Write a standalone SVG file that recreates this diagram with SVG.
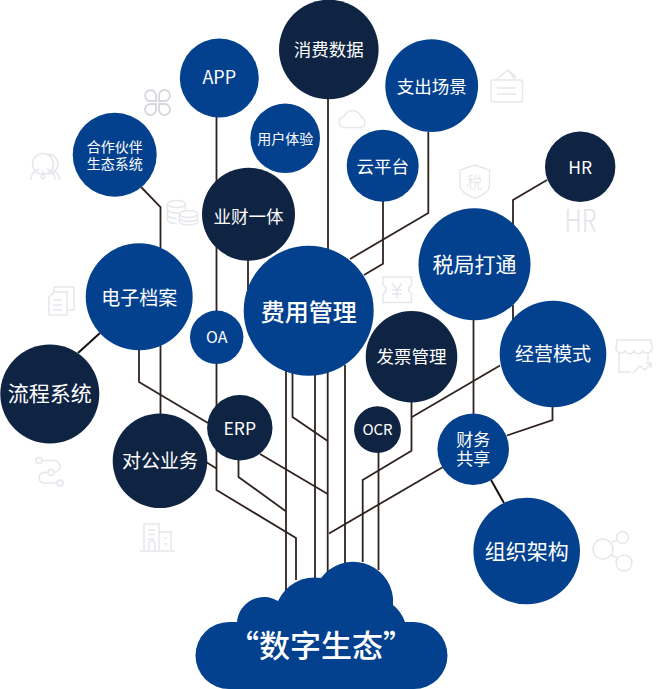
<svg xmlns="http://www.w3.org/2000/svg" width="660" height="689" viewBox="0 0 660 689">
<style>
.b{fill:#03418f}.n{fill:#0f2343}
text{font-family:"Noto Sans CJK SC","Noto Sans",sans-serif;fill:#fff;text-anchor:middle}
#connectors path{fill:none;stroke:#2f2320;stroke-width:1.8;stroke-linejoin:miter}
#icons *{fill:none;stroke:#e6e7ec;stroke-width:1.5}
#icons text{fill:#e2e3e9;stroke:none}
</style>
<rect width="660" height="689" fill="#fff"/>
<g id="icons">
<g id="icon-clover"><path d="M156 101H151a5.500 5.500 0 1 1 5-5.500zM159 101V95.500a5.500 5.500 0 1 1 5.500 5.500zM156 104V109.500a5.500 5.500 0 1 1-5.500-5.500zM159 104H164.500a5.500 5.500 0 1 1-5.500 5.500z" style="stroke:#d5d7de;stroke-width:1.8"/></g>
<g id="icon-person"><circle cx="43" cy="164" r="10.500"/><path d="M48 154a10 10 0 0 1 0 20M31 180c0-6 3-9 8-11M47 169c5 2 8 5 8 11M53 170c4 2 6 5 7 10M43 172l-2 5 2 2 2-2z"/></g>
<g id="icon-coins"><ellipse cx="176.500" cy="204" rx="9" ry="3.500"/><path d="M167.500 204V220c0 2 4 3.500 9 3.500M185.500 204V211M167.500 209.500c0 2 4 3.500 9 3.500h3M167.500 215c0 2 4 3.500 9 3.500"/><ellipse cx="188.500" cy="214" rx="9" ry="3.500"/><path d="M179.500 214V221.500c0 2 4 3.500 9 3.500s9-1.500 9-3.500V214M179.500 218c0 2 4 3.500 9 3.500s9-1.500 9-3.500"/></g>
<g id="icon-doc"><path d="M54 292H67V315H49V297zM54 292V287H74V310H67M53 300H62M53 305H62M53 310H62"/></g>
<g id="icon-flow"><circle cx="39" cy="460.500" r="3"/><circle cx="51" cy="472.500" r="3"/><circle cx="60" cy="483" r="3"/><path d="M42 460.500H54a6 6 0 0 1 0 12H54M48 472.500H43a5.500 5.500 0 0 0 0 10.500H57"/></g>
<g id="icon-building"><path d="M140 551H175M144 551V524H159V551M159 532H171V551M149 551V544a3 3 0 0 1 6 0V551M148 530H155M148 534.500H155M148 539H155M164 538H167M164 544H167"/></g>
<g id="icon-wallet"><rect x="491" y="80" width="31.500" height="22" rx="2"/><path d="M497 79L508 70L515 79M508 70L516 77M497 88H516M497 94H516"/></g>
<g id="icon-cloud"><path d="M345 127.500a5.500 5.500 0 0 1-1-11 9 9 0 0 1 14-4 7 7 0 0 1 3 4.500 5.500 5.500 0 0 1 0 10.500z"/></g>
<g id="icon-shield"><path d="M475 165L489.500 170V186C489.500 191 482 195.500 475 198.500C468 195.500 460 191 460 186V170z"/><text x="474.500" y="188" font-size="16" font-weight="300">税</text></g>
<g id="icon-hr"><text x="580.500" y="232" font-size="32" font-weight="300" textLength="32" lengthAdjust="spacingAndGlyphs">HR</text></g>
<g id="icon-ticket"><path d="M383 277H411.500V285a5 5 0 0 0-3 4.500 5 5 0 0 0 3 4V302.500H383V294a5 5 0 0 0 3-4.500 5 5 0 0 0-3-4.500z"/><path d="M392 283L397 290L402 283M397 290V298M392 290H402M392 294H402"/></g>
<g id="icon-store"><path d="M617 340H651L652 348a5 5 0 0 1-9 3 5 5 0 0 1-9 0 5 5 0 0 1-9 0 5 5 0 0 1-9-3zM619 353V372H631M648 353V361M633 373L640 366L645 370L651 363M646 363H651V368"/></g>
<g id="icon-share"><circle cx="603" cy="549" r="10"/><circle cx="622.500" cy="537.500" r="6"/><circle cx="624" cy="563" r="8"/><path d="M612 542L617 540M611 555L618 558"/></g>
</g>
<g id="connectors">
<path d="M216.500 117V468M216.500 345V490L296 538V580"/>
<path d="M328 99V250"/>
<path d="M383 201V263.700L364 275"/>
<path d="M428.300 132V213L350 259"/>
<path d="M547 180L513 200V226M513 305V321"/>
<path d="M141 187L160.500 207V248M160.500 345V415"/>
<path d="M248 258V290"/>
<path d="M139 345V382L208 423M206 462L216.500 468.500"/>
<path d="M78 353L100 333" style="stroke:#111;stroke-width:2"/>
<path d="M286 370V600"/>
<path d="M292.500 370V417L327.700 441"/>
<path d="M315 370V585"/>
<path d="M327.700 370V580"/>
<path d="M345 365V565"/>
<path d="M260 454L327.700 494"/>
<path d="M238.500 458V477L285.500 511"/>
<path d="M473.500 318V415"/>
<path d="M500 365.500L412 417"/>
<path d="M411.500 400V450.700L362.700 480V562"/>
<path d="M378.500 450V570"/>
<path d="M443 467L329 533.500"/>
<path d="M552.500 405V420L507 435.500"/>
<path d="M491 480L504 503" style="stroke:#111;stroke-width:2"/>
</g>
<g id="n-app"><circle class="b" cx="219.300" cy="78" r="39.500"/><text x="219.300" y="84" font-size="18">APP</text></g>
<g id="n-xiaofei"><circle class="n" cx="328.800" cy="49.500" r="49.800"/><text x="328.800" y="56" font-size="17.500">消费数据</text></g>
<g id="n-zhichu"><circle class="b" cx="431.700" cy="85.700" r="46.400"/><text x="431.700" y="92.500" font-size="17.500">支出场景</text></g>
<g id="n-yonghu"><circle class="b" cx="285.200" cy="138.300" r="34.800"/><text x="285.200" y="144" font-size="14">用户体验</text></g>
<g id="n-yun"><circle class="b" cx="382.700" cy="165.800" r="36"/><text x="382.700" y="172.500" font-size="17.500">云平台</text></g>
<g id="n-hr"><circle class="n" cx="580.200" cy="166.800" r="35.200"/><text x="580.200" y="173.500" font-size="17.500">HR</text></g>
<g id="n-hezuo"><circle class="b" cx="114.700" cy="154.700" r="42"/><text x="114.700" y="151.500" font-size="14">合作伙伴</text><text x="114.700" y="169" font-size="14">生态系统</text></g>
<g id="n-yecai"><circle class="n" cx="248.500" cy="214.200" r="46.500"/><text x="248.500" y="222.500" font-size="17.500">业财一体</text></g>
<g id="n-feiyong"><circle class="b" cx="308.700" cy="310.700" r="65"/><text x="308.700" y="321" font-size="24" font-weight="500">费用管理</text></g>
<g id="n-dianzi"><circle class="b" cx="139.200" cy="296.800" r="53.500"/><text x="139.200" y="304.500" font-size="19">电子档案</text></g>
<g id="n-oa"><circle class="b" cx="216.700" cy="337.300" r="26.700"/><text x="216.700" y="343" font-size="16">OA</text></g>
<g id="n-shuiju"><circle class="b" cx="474.500" cy="264.300" r="56"/><text x="474.500" y="272" font-size="21">税局打通</text></g>
<g id="n-jingying"><circle class="b" cx="553" cy="354" r="53.300"/><text x="553" y="361" font-size="19">经营模式</text></g>
<g id="n-fapiao"><circle class="n" cx="411.500" cy="356.800" r="45.800"/><text x="411.500" y="363" font-size="17.500">发票管理</text></g>
<g id="n-liucheng"><circle class="n" cx="49.800" cy="394" r="49.500"/><text x="49.800" y="401" font-size="21">流程系统</text></g>
<g id="n-duigong"><circle class="n" cx="160" cy="460.800" r="47.300"/><text x="160" y="467.500" font-size="19">对公业务</text></g>
<g id="n-erp"><circle class="n" cx="239.800" cy="427.800" r="32.700"/><text x="239.800" y="434.500" font-size="17.500">ERP</text></g>
<g id="n-ocr"><circle class="n" cx="377.500" cy="429.700" r="23.400"/><text x="377.500" y="435" font-size="15">OCR</text></g>
<g id="n-caiwu"><circle class="b" cx="473.200" cy="449.200" r="35.800"/><text x="473.200" y="445.500" font-size="17">财务</text><text x="473.200" y="464.500" font-size="17">共享</text></g>
<g id="n-zuzhi"><circle class="b" cx="526.700" cy="551" r="53.300"/><text x="526.700" y="559" font-size="21">组织架构</text></g>
<g id="n-cloud"><path class="b" d="M229 689A33.500 33.500 0 0 1 229 622H237A27 27 0 0 1 278 601A40 40 0 0 1 321 578A40 40 0 0 1 393 598V605Q401 611 405 622H414A33.500 33.500 0 0 1 414 689Z"/><text x="321" y="657" font-size="31" font-weight="500">“数字生态”</text></g>
</svg>
